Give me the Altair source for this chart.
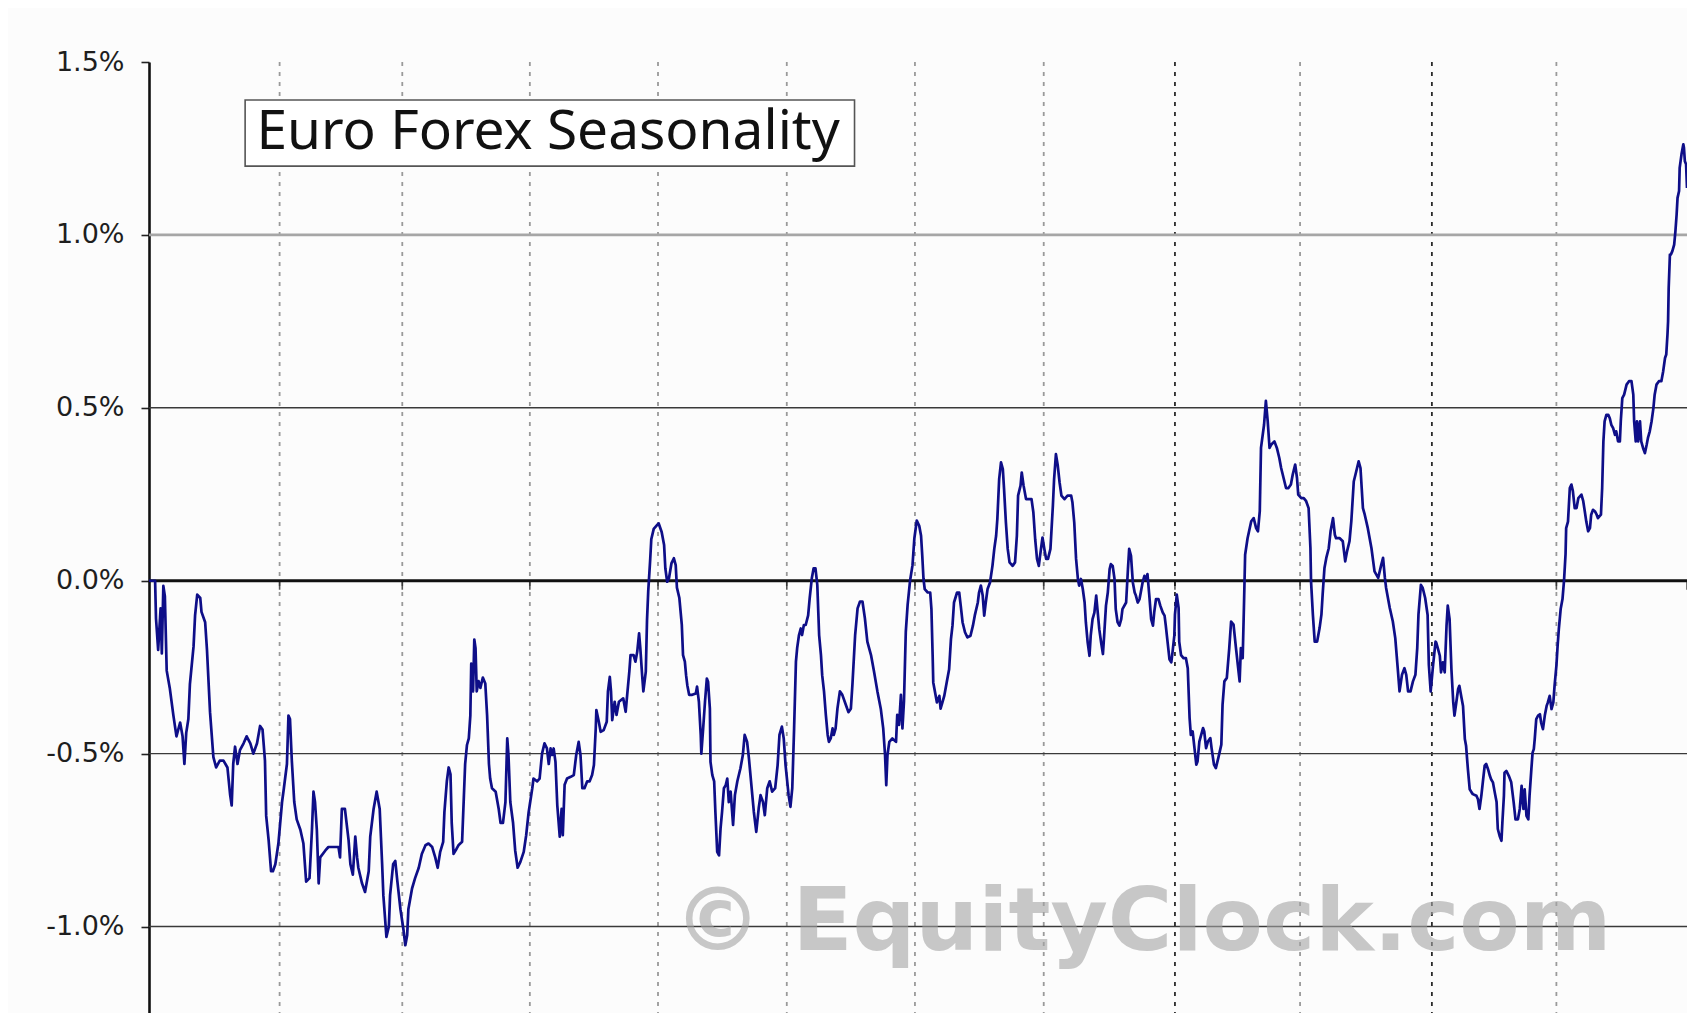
import altair as alt
import pandas as pd

# ---- data ----
# trading day of the year (0..252) and average seasonal change (%)
DAY = [
    0, 1.0, 1.15, 1.5, 1.9, 2.1, 2.35, 2.6, 2.9, 3.4, 4.0, 4.5, 5.1, 5.5, 5.8, 6.1, 6.45, 6.7,
    7.3, 7.55, 7.9, 8.4, 8.6, 9.2, 9.5, 10.0, 10.55, 11.0, 11.6, 12.2, 12.85, 13.3, 13.55, 13.8,
    14.1, 14.5, 14.9, 15.5, 16.0, 16.6, 17.1, 17.7, 18.2, 18.6, 19.0, 19.2, 19.6, 20.0, 20.3,
    20.7, 21.2, 21.8, 22.1, 22.6, 22.85, 23.1, 23.4, 23.8, 24.2, 24.8, 25.3, 25.75, 26.3, 26.7,
    26.95, 27.2, 27.5, 27.8, 28.05, 28.9, 29.4, 30.2, 31.05, 31.3, 31.6, 32.1, 32.7, 33.0, 33.4,
    33.8, 34.1, 34.3, 34.9, 35.4, 36.0, 36.25, 36.8, 37.3, 37.8, 38.2, 38.4, 38.9, 39.3, 39.5,
    40.0, 40.35, 40.7, 41.2, 41.7,
    42.0, 42.3, 42.5, 43.1, 43.6, 44.2, 44.7, 45.3, 45.8, 46.4, 46.9, 47.3, 47.7, 48.2, 48.4,
    48.8, 49.1, 49.4, 49.6, 49.9, 50.4, 50.7, 51.3, 51.6, 51.8, 52.1, 52.4, 52.65, 52.8, 53.1,
    53.3, 53.5, 53.7, 54.0, 54.3, 54.7, 55.1, 55.4, 55.7, 55.9, 56.2, 56.8, 57.3, 57.6, 58.0,
    58.4, 58.7, 58.9, 59.2, 59.65, 60.0, 60.4, 60.85, 61.4, 61.8, 62.2, 62.8, 63.0, 63.6, 64.0,
    64.4, 64.8, 65.2, 65.5, 65.8, 66.05, 66.3, 66.6, 66.9, 67.3, 67.6, 67.8, 68.1, 68.5, 69.1,
    69.6, 70.0, 70.4, 70.7, 71.0, 71.35, 71.8, 72.2, 72.6, 72.9, 73.2, 73.3, 73.7, 74.0, 74.5,
    75.0, 75.2, 75.5, 75.7, 75.9, 76.3, 76.6, 77.0, 77.7, 78.1, 78.35, 78.7, 78.9, 79.4, 79.7,
    80.0, 80.3, 80.5, 80.8, 81.0, 81.4, 81.6, 81.8, 82.1, 82.3, 82.7, 83.2,
    83.5, 84.0, 84.4, 84.6, 84.9, 85.2, 85.6, 86.0, 86.3, 86.5, 86.9, 87.3, 87.5, 87.8, 88.0,
    88.2, 88.5, 89.0, 89.6, 89.8, 90.1, 90.4, 90.5, 90.8, 91.1, 91.4, 91.6, 91.9, 92.0, 92.3,
    92.6, 92.8, 93.1, 93.4, 93.65, 93.9, 94.2, 94.5, 94.75, 95.0, 95.3, 95.7, 96.0, 96.4, 96.9,
    97.3, 97.6, 98.0, 98.3, 98.7, 99.1, 99.5, 99.9, 100.2, 100.6, 100.9, 101.3, 101.7, 102.1,
    102.6, 103.0, 103.3, 103.7, 104.0, 104.3, 104.8, 105.1, 105.4, 105.7, 106.0, 106.2, 106.5,
    106.8, 107.0, 107.3, 107.6, 108.0, 108.25, 108.6, 108.9, 109.2, 109.5, 109.8, 110.1, 110.3,
    110.6, 110.9, 111.2, 111.4, 111.7, 112.0, 112.2, 112.5, 112.8, 113.2, 113.6, 114.2, 114.6,
    115.0, 115.25, 115.7, 116.1, 116.5, 116.9, 117.3, 117.7, 118.3, 118.8, 119.35, 119.9, 120.3,
    120.6, 120.8, 121.0, 121.3, 121.8, 122.4, 122.6, 122.9, 123.2, 123.45, 123.7, 124.0, 124.3,
    124.7, 125.1, 125.4, 125.8,
    126.2, 126.5, 126.7, 126.9, 127.1, 127.6, 128.0, 128.2, 128.4, 128.5, 128.8, 129.1, 129.5,
    129.7, 130.0, 130.3, 130.7, 131.1, 131.4, 131.65, 131.9, 132.4, 132.75, 133.0, 133.3, 133.7,
    134.1, 134.6, 135.0, 135.3, 135.8, 136.0, 136.3, 136.6, 136.85, 137.1, 137.4, 137.8, 138.2,
    138.5, 138.8, 139.0, 139.3, 139.6, 139.9, 140.1, 140.4, 140.7, 141.0, 141.5, 141.9, 142.2,
    142.4, 142.8, 143.0, 143.3, 143.7, 144.2, 144.6, 144.9, 145.2, 145.5, 145.8, 146.0, 146.4,
    146.7, 147.0, 147.3, 147.7, 148.1, 148.3, 148.6, 148.9, 149.2, 149.5, 150.0, 150.5, 151.1,
    151.3, 151.6, 151.9, 152.2, 152.4, 152.7, 153.0, 153.3, 153.5, 153.8, 154.1, 154.3, 154.6,
    154.9, 155.2, 155.4, 155.7, 156.0, 156.3, 156.5, 156.8, 157.1, 157.4, 157.6, 157.9, 158.2,
    158.4, 158.7, 159.0, 159.3, 159.5, 160.1, 160.4, 160.6, 160.9, 161.2, 161.5, 161.7, 162.0,
    162.3, 162.5, 162.8, 163.1, 163.4, 163.6, 163.9, 164.2, 164.5, 164.7, 165.0, 165.4, 165.7,
    166.1, 166.4, 166.6, 166.9, 167.2, 167.5, 167.7, 168.0,
    168.1, 168.4, 168.7, 168.8, 169.1, 169.5, 169.9, 170.2, 170.5, 170.7, 171.0, 171.3, 171.6,
    171.8, 172.1, 172.7, 172.9, 173.2, 173.5, 173.9, 174.1, 174.5, 174.8, 175.2, 175.7, 175.9,
    176.2, 176.6, 177.0, 177.3, 177.7, 178.1, 178.4, 178.7, 178.9, 179.2, 179.4, 179.6, 180.0,
    180.6, 181.0, 181.4, 181.7, 182.0, 182.2, 182.7, 183.0, 183.3, 183.6, 183.9, 184.4, 184.8,
    185.2, 185.5, 185.9, 186.3, 186.7, 187.1, 187.4, 187.8, 188.1, 188.3, 188.8, 189.2, 189.6,
    190.0, 190.3, 190.4, 190.7, 191.0, 191.4, 191.8, 192.1, 192.3, 192.6, 192.9, 193.3, 193.6,
    194.0, 194.3, 194.5, 195.1, 195.6, 196.0, 196.3, 196.7, 197.0, 197.4, 197.8, 198.2, 198.5,
    198.9, 199.2, 199.7, 200.3, 200.8, 201.4, 201.9, 202.2, 202.5, 202.7, 203.3, 203.8, 204.2,
    204.6, 204.9, 205.3, 205.7, 206.0, 206.3, 206.7, 207.1, 207.5, 207.8, 208.0, 208.4, 208.7,
    209.1, 209.5, 209.7, 210.0, 210.4, 210.8,
    210.9, 211.2, 211.5, 211.7, 212.0, 212.3, 212.6, 212.8, 213.1, 213.4, 213.7, 213.9, 214.2,
    214.5, 214.7, 215.0, 215.3, 215.6, 215.8, 216.1, 216.4, 216.7, 216.9, 217.5, 217.75, 218.0,
    218.3, 218.6, 218.85, 219.1, 219.4, 219.7, 219.9, 220.2, 220.5, 220.8, 221.0, 221.3, 221.6,
    221.75, 222.0, 222.1, 222.4, 222.8, 223.2, 223.6, 223.9, 224.3, 224.6, 224.9, 225.0, 225.2,
    225.4, 225.7, 226.0, 226.2, 226.5, 226.7, 226.9, 227.05, 227.3, 227.6, 227.9, 228.1, 228.4,
    228.7, 229.0, 229.2, 229.5, 229.8, 230.1, 230.3, 230.6, 230.8, 231.0, 231.3, 231.6,
    231.85, 232.1, 232.2, 232.5, 232.8, 233.06, 233.3, 233.6, 233.9, 234.2, 234.7, 235.0, 235.25,
    235.5, 235.8, 236.1, 236.3, 236.6, 236.9, 237.2, 237.4, 237.9, 238.1, 238.3, 238.5, 238.8,
    239.1, 239.35, 239.6, 239.9, 240.2, 240.4, 240.7, 241.0, 241.15, 241.4, 241.7, 242.1, 242.5,
    242.9, 243.2, 243.34, 243.6, 243.8, 244.0, 244.3, 244.5, 244.8, 245.1, 245.4, 245.6, 245.9,
    246.2, 246.5, 246.7, 247.0, 247.4, 247.8, 248.1, 248.4, 248.6, 248.8, 248.9, 249.0, 249.2,
    249.35, 249.6, 249.9, 250.1, 250.3, 250.45, 250.7, 250.8, 251.1, 251.4, 251.5, 251.65,
    251.85, 252.0,
]

PCT = [
    0.0, 0.0, -0.11, -0.20, -0.08, -0.21, -0.015, -0.045, -0.26, -0.31, -0.39, -0.45, -0.41, -0.45,
    -0.53, -0.44, -0.40, -0.30, -0.19, -0.10, -0.04, -0.05, -0.09, -0.12, -0.20, -0.38, -0.51,
    -0.54, -0.52, -0.52, -0.54, -0.62, -0.65, -0.53, -0.48, -0.53, -0.49, -0.47, -0.45, -0.47,
    -0.50, -0.47, -0.42, -0.43, -0.52, -0.68, -0.75, -0.84, -0.84, -0.82, -0.76, -0.64, -0.60,
    -0.53, -0.39, -0.40, -0.52, -0.64, -0.69, -0.72, -0.76, -0.87, -0.86, -0.72, -0.61, -0.64,
    -0.72, -0.875, -0.80, -0.78, -0.77, -0.77, -0.77, -0.80, -0.66, -0.66, -0.75, -0.82, -0.85,
    -0.74, -0.80, -0.83, -0.875, -0.90, -0.84, -0.74, -0.66, -0.61, -0.66, -0.82, -0.91, -1.03,
    -1.00, -0.91, -0.82, -0.81, -0.87, -0.95, -1.01,
    -1.054, -1.025, -0.95, -0.89, -0.86, -0.83, -0.79, -0.765, -0.76, -0.77, -0.80, -0.83, -0.785,
    -0.755, -0.67, -0.58, -0.54, -0.56, -0.70, -0.79, -0.775, -0.765, -0.755, -0.62, -0.53,
    -0.475, -0.456, -0.39, -0.24, -0.32, -0.17, -0.195, -0.32, -0.29, -0.31, -0.28, -0.297,
    -0.39, -0.53, -0.572, -0.60, -0.61, -0.66, -0.70, -0.70, -0.64, -0.456, -0.504, -0.64, -0.70,
    -0.78, -0.83, -0.813, -0.784, -0.736, -0.67, -0.60, -0.572, -0.58, -0.572, -0.50, -0.47,
    -0.485, -0.53, -0.485, -0.504, -0.485, -0.524, -0.65, -0.74, -0.66, -0.736, -0.59, -0.572,
    -0.567, -0.562, -0.504, -0.466, -0.504, -0.60, -0.60, -0.58, -0.58, -0.562, -0.533, -0.427,
    -0.374, -0.408, -0.437, -0.432, -0.408, -0.32, -0.278, -0.32, -0.403, -0.35, -0.388, -0.35,
    -0.34, -0.379, -0.33, -0.263, -0.215, -0.215, -0.234, -0.205, -0.152, -0.195, -0.273, -0.32,
    -0.263, -0.114, -0.03, 0.055, 0.12, 0.15, 0.16,
    0.166, 0.141, 0.103, 0.036, -0.003, 0.007, 0.05, 0.065, 0.045, -0.02, -0.05, -0.128, -0.215,
    -0.234, -0.273, -0.302, -0.33, -0.33, -0.326, -0.306, -0.35, -0.446, -0.50, -0.427, -0.35,
    -0.283, -0.292, -0.37, -0.524, -0.562, -0.58, -0.668, -0.784, -0.794, -0.716, -0.668, -0.60,
    -0.591, -0.572, -0.64, -0.61, -0.706, -0.62, -0.58, -0.543, -0.504, -0.446, -0.466, -0.514,
    -0.591, -0.668, -0.726, -0.658, -0.62, -0.64, -0.678, -0.60, -0.58, -0.61, -0.60, -0.533,
    -0.446, -0.422, -0.456, -0.533, -0.62, -0.654, -0.60, -0.427, -0.234, -0.195, -0.157, -0.138,
    -0.157, -0.128, -0.128, -0.10, -0.051, 0.007, 0.036, 0.036, -0.012, -0.157, -0.215, -0.273,
    -0.32, -0.388, -0.446, -0.466, -0.456, -0.427, -0.446, -0.427, -0.37, -0.32, -0.33, -0.36,
    -0.38, -0.37, -0.302, -0.157, -0.08, -0.06, -0.06, -0.109, -0.176, -0.215, -0.263, -0.32,
    -0.37, -0.427, -0.504, -0.591, -0.504, -0.466, -0.456, -0.466, -0.388, -0.417, -0.33, -0.427,
    -0.35, -0.148, -0.07, 0.0, 0.045, 0.122, 0.174,
    0.159, 0.13, 0.072, 0.005, -0.024, -0.034, -0.034, -0.082, -0.217, -0.294, -0.323, -0.352,
    -0.333, -0.37, -0.352, -0.333, -0.294, -0.256, -0.169, -0.13, -0.063, -0.034, -0.034, -0.072,
    -0.12, -0.149, -0.164, -0.159, -0.13, -0.101, -0.063, -0.034, -0.014, -0.043, -0.101, -0.063,
    -0.024, -0.005, 0.043, 0.092, 0.13, 0.178, 0.294, 0.342, 0.323, 0.265, 0.169, 0.092, 0.053,
    0.043, 0.053, 0.13, 0.246, 0.275, 0.313, 0.275, 0.236, 0.236, 0.236, 0.198, 0.120, 0.063,
    0.043, 0.072, 0.125, 0.092, 0.063, 0.063, 0.092, 0.217, 0.294, 0.366, 0.333, 0.284, 0.246,
    0.236, 0.246, 0.246, 0.227, 0.169, 0.063, 0.005, -0.014, 0.005, -0.024, -0.063, -0.12,
    -0.178, -0.217, -0.159, -0.111, -0.092, -0.043, -0.082, -0.14, -0.178, -0.212, -0.159,
    -0.072, -0.034, 0.034, 0.048, 0.043, 0.005, -0.082, -0.12, -0.13, -0.111, -0.082, -0.063,
    0.034, 0.092, 0.072, -0.005, -0.034, -0.043, -0.063, -0.053, -0.034, -0.005, 0.014, 0.005,
    0.019, -0.043, -0.111, -0.13, -0.092, -0.053, -0.053, -0.072, -0.092, -0.101, -0.13, -0.178,
    -0.227, -0.236, -0.207, -0.159,
    -0.099, -0.04, -0.079, -0.176, -0.215, -0.224, -0.224, -0.253, -0.397, -0.446, -0.436,
    -0.484, -0.532, -0.523, -0.465, -0.426, -0.436, -0.484, -0.465, -0.455, -0.484, -0.532,
    -0.542, -0.513, -0.474, -0.359, -0.291, -0.281, -0.195, -0.118, -0.127, -0.195, -0.243,
    -0.291, -0.195, -0.224, -0.079, 0.075, 0.123, 0.172, 0.181, 0.152, 0.143, 0.201, 0.384,
    0.451, 0.52, 0.461, 0.384, 0.394, 0.403, 0.384, 0.355, 0.326, 0.297, 0.268, 0.268, 0.278,
    0.307, 0.336, 0.297, 0.249, 0.239, 0.239, 0.23, 0.21, 0.094, -0.002, -0.098, -0.176, -0.176,
    -0.137, -0.098, -0.04, 0.037, 0.066, 0.094, 0.143, 0.181, 0.133, 0.123, 0.123, 0.114, 0.056,
    0.085, 0.114, 0.172, 0.287, 0.316, 0.345, 0.326, 0.21, 0.191, 0.152, 0.094, 0.027, 0.008,
    0.046, 0.066, 0.008, -0.021, -0.079, -0.118, -0.166, -0.253, -0.32, -0.272, -0.253, -0.272,
    -0.32, -0.32, -0.291, -0.272, -0.195, -0.098, -0.012, -0.021, -0.05, -0.099, -0.243, -0.32,
    -0.243, -0.176,
    -0.178, -0.197, -0.217, -0.265, -0.236, -0.265, -0.13, -0.072, -0.111, -0.256, -0.352, -0.39,
    -0.352, -0.313, -0.304, -0.333, -0.362, -0.458, -0.477, -0.545, -0.603, -0.612, -0.617,
    -0.622, -0.632, -0.66, -0.622, -0.574, -0.535, -0.53, -0.545, -0.564, -0.574, -0.583, -0.612,
    -0.64, -0.718, -0.738, -0.752, -0.699, -0.622, -0.555, -0.55, -0.564, -0.583, -0.641, -0.69,
    -0.69, -0.66, -0.593, -0.622, -0.66, -0.603, -0.68, -0.69, -0.622, -0.545, -0.497, -0.487,
    -0.458, -0.40, -0.39, -0.386, -0.41, -0.429, -0.39, -0.362, -0.352, -0.333, -0.371, -0.352,
    -0.304, -0.246, -0.188, -0.14, -0.082, -0.053,
    0.0, 0.077, 0.152, 0.171, 0.268, 0.278, 0.259, 0.21, 0.21, 0.239, 0.249, 0.23, 0.201, 0.171,
    0.143, 0.152, 0.191, 0.205, 0.201, 0.191, 0.181, 0.191, 0.268, 0.403, 0.461, 0.48, 0.48, 0.47,
    0.451, 0.441, 0.422, 0.432, 0.403, 0.403, 0.461, 0.528, 0.538, 0.567, 0.577, 0.577, 0.538,
    0.461, 0.403, 0.461, 0.403, 0.461, 0.403, 0.384, 0.369, 0.394, 0.413, 0.432, 0.461, 0.50,
    0.538, 0.567, 0.577, 0.577, 0.606, 0.644, 0.654, 0.712, 0.75, 0.847, 0.943, 0.943, 0.953,
    0.972, 1.01, 1.059, 1.107, 1.127, 1.194, 1.233, 1.262, 1.252, 1.213, 1.204, 1.136,
]

# month boundaries (trading day) where the dotted vertical gridlines sit
MONTH_LIGHT = [21.4, 41.5, 62.4, 83.4, 104.5, 125.5, 146.6, 188.6, 230.6]
MONTH_DARK = [168.1, 210.2]
TICK_DAYS = [21.4, 41.5, 62.4, 83.4, 104.5, 125.5, 146.6, 168.1, 188.6, 210.2, 230.6, 252.0]
Y_TICKS = [-1.0, -0.5, 0.0, 0.5, 1.0, 1.5]
LIGHT_HLINES = [1.0]
DARK_HLINES = [0.5, -0.5, -1.0]
ZERO_LINE = [0.0]

TITLE = "Euro Forex Seasonality"
WATERMARK = "\u00a9 EquityClock.com"

W, H = 1538, 951
X_DOM = [0, 252]
Y_DOM = [-1.25, 1.5]

XS = alt.Scale(domain=X_DOM, nice=False, zero=False)
YS = alt.Scale(domain=Y_DOM, nice=False, zero=False)
YAXIS = alt.Axis(
    values=Y_TICKS,
    labelExpr="(datum.value < 0 ? '-' : '') + format(abs(datum.value), '.1f') + '%'",
    title=None, grid=False,
    domainColor="#111111", domainWidth=2.6,
    tickColor="#222222", tickSize=8, tickWidth=1.6,
    labelFont="DejaVu Sans", labelFontSize=27, labelColor="#1e1e1e",
    labelPadding=17, labelFlush=False, labelOverlap=False,
)


def xq(field):
    return alt.X(field, type="quantitative", scale=XS, axis=None)


def yq(field):
    return alt.Y(field, type="quantitative", scale=YS, axis=YAXIS)


line_df = pd.DataFrame({"day": DAY, "pct": PCT})

vlight = alt.Chart(pd.DataFrame({"day": MONTH_LIGHT})).mark_rule(
    color="#9a9a9a", strokeWidth=1.8, strokeDash=[4, 6]
).encode(x=xq("day"))

vdark = alt.Chart(pd.DataFrame({"day": MONTH_DARK})).mark_rule(
    color="#2a2a2a", strokeWidth=1.8, strokeDash=[4, 6]
).encode(x=xq("day"))

hlight = alt.Chart(pd.DataFrame({"v": LIGHT_HLINES})).mark_rule(
    color="#a6a6a6", strokeWidth=2.8
).encode(y=yq("v"))

hdark = alt.Chart(pd.DataFrame({"v": DARK_HLINES})).mark_rule(
    color="#3a3a3a", strokeWidth=1.4
).encode(y=yq("v"))

zero = alt.Chart(pd.DataFrame({"v": ZERO_LINE})).mark_rule(
    color="#111111", strokeWidth=2.8
).encode(y=yq("v"))

ticks = alt.Chart(pd.DataFrame({"day": TICK_DAYS, "v": [0.0] * len(TICK_DAYS)})).mark_tick(
    orient="vertical", size=9, thickness=1.6, color="#111111", yOffset=4.5
).encode(x=xq("day"), y=yq("v"))

line = alt.Chart(line_df).mark_line(
    color="#0e0e88", strokeWidth=2.7, strokeJoin="round"
).encode(x=xq("day"), y=yq("pct"))

ann_wm = pd.DataFrame({"day": [86.0], "v": [-1.068], "t": [WATERMARK]})
watermark = alt.Chart(ann_wm).mark_text(
    font="DejaVu Sans", fontWeight="bold", fontSize=88, color="#a4a4a4", opacity=0.6,
    align="left", baseline="alphabetic"
).encode(x=xq("day"), y=yq("v"), text="t:N")

box_df = pd.DataFrame({"d1": [15.75], "d2": [115.6], "v1": [1.39], "v2": [1.199]})
box = alt.Chart(box_df).mark_rect(
    fill="#ffffff", stroke="#555555", strokeWidth=1.6
).encode(x=xq("d1"), x2="d2", y=yq("v1"), y2="v2")

ann_t = pd.DataFrame({"day": [17.6], "v": [1.247], "t": [TITLE]})
title = alt.Chart(ann_t).mark_text(
    font="Noto Sans", fontSize=55, color="#111111", align="left", baseline="alphabetic"
).encode(x=xq("day"), y=yq("v"), text="t:N")

chart = alt.layer(
    vlight, vdark, hlight, hdark, zero, ticks, line, watermark, box, title
).properties(
    width=W, height=H,
    padding={"left": 141, "top": 54, "right": 0, "bottom": 0},
    autosize=alt.AutoSizeParams(type="none"),
    background="#fcfcfc",
).configure_view(strokeWidth=0)

chart.save("out.html", embed_options={"renderer": "svg", "actions": False})
